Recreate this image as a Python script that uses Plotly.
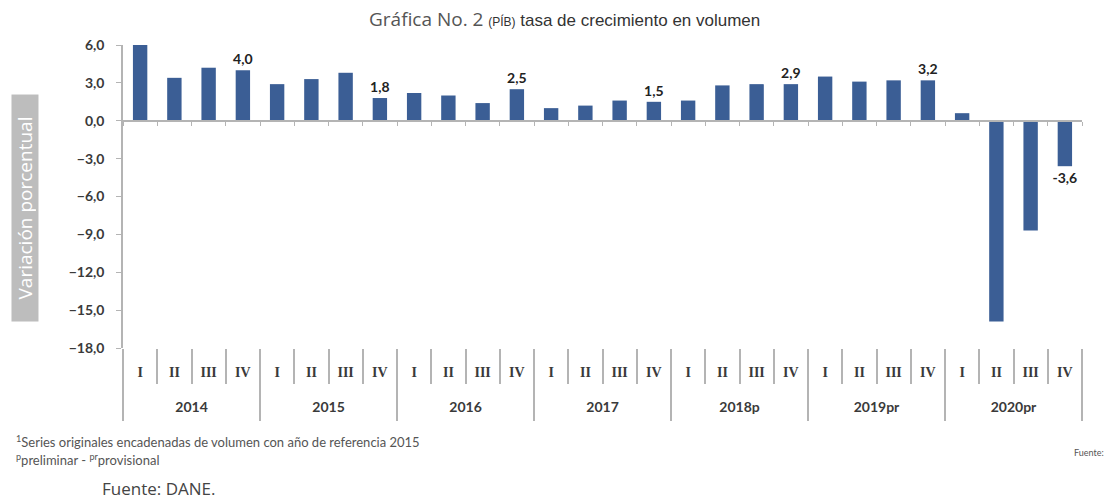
import plotly.graph_objects as go

years = ["2014", "2015", "2016", "2017", "2018p", "2019pr", "2020pr"]
quarters = ["I", "II", "III", "IV"]
values = [
    6.0, 3.4, 4.2, 4.0,
    2.9, 3.3, 3.8, 1.8,
    2.2, 2.0, 1.4, 2.5,
    1.0, 1.2, 1.6, 1.5,
    1.6, 2.8, 2.9, 2.9,
    3.5, 3.1, 3.2, 3.2,
    0.6, -15.9, -8.7, -3.6,
]
labeled_quarter = "IV"
y_min, y_max, y_step = -18, 6, 3

x_years = [y for y in years for _ in quarters]
x_quarters = [q for _ in years for q in quarters]
categories = [f"{y} {q}" for y, q in zip(x_years, x_quarters)]
texts = [f"{v:.1f}".replace(".", ",") if q == labeled_quarter else ""
         for v, q in zip(values, x_quarters)]

n = len(values)
nq = len(quarters)
xr = [-0.5, n - 0.5]
year_centers = [i * nq + (nq - 1) / 2 for i in range(len(years))]
year_bounds = [i * nq - 0.5 for i in range(len(years) + 1)]
quarter_bounds = [i - 0.5 for i in range(n + 1)]

BAR = "#3B5E95"
AX = "#B4B4B4"
TXT = "#3a3a3a"

fig = go.Figure()
fig.add_trace(go.Bar(
    x=categories, y=values,
    marker=dict(color=BAR, line=dict(width=0)),
    text=texts, textposition="outside", cliponaxis=False,
    constraintext="none",
    textfont=dict(family="Lato", size=14, color="#222222", weight="bold"),
    width=0.42, showlegend=False, hoverinfo="skip",
))
for ax in ["x2", "x3", "x4", "x5"]:
    fig.add_trace(go.Scatter(x=[], y=[], xaxis=ax, yaxis="y",
                             showlegend=False, hoverinfo="skip"))

zero_pos = (0 - y_min) / (y_max - y_min)

common_overlay = dict(overlaying="x", anchor="free", range=xr,
                      showgrid=False, zeroline=False, showline=False,
                      tickmode="array")

fig.update_layout(
    width=1112, height=502,
    margin=dict(l=115, r=38, t=37, b=162),
    paper_bgcolor="white", plot_bgcolor="white",
    separators=",.",
    xaxis=dict(
        type="category", range=xr,
        tickmode="array", tickvals=categories, ticktext=x_quarters,
        showline=False, showgrid=False, zeroline=False, ticks="",
        ticklabelstandoff=14,
        tickfont=dict(family="Liberation Serif", size=14, color=TXT, weight="bold"),
    ),
    # zero line with small ticks
    xaxis2=dict(common_overlay, position=zero_pos,
                tickvals=quarter_bounds, showline=True, linecolor=AX, linewidth=1.5,
                ticks="outside", ticklen=4, tickcolor=AX, showticklabels=False),
    # year labels
    xaxis3=dict(common_overlay, position=0,
                tickvals=year_centers, ticktext=years, ticks="",
                ticklabelstandoff=49,
                tickfont=dict(family="Lato", size=14, color=TXT, weight="bold")),
    # quarter separators
    xaxis4=dict(common_overlay, position=0,
                tickvals=quarter_bounds, ticks="outside", ticklen=35,
                tickcolor=AX, tickwidth=1.5, showticklabels=False),
    # year dividers
    xaxis5=dict(common_overlay, position=0,
                tickvals=year_bounds, ticks="outside", ticklen=72,
                tickcolor=AX, tickwidth=1.5, showticklabels=False),
    yaxis=dict(
        range=[y_min, y_max], dtick=y_step, tick0=0,
        tickformat=".1f",
        showline=True, linecolor=AX, linewidth=1.5,
        ticks="outside", ticklen=5, tickcolor=AX,
        ticklabelstandoff=9,
        showgrid=False, zeroline=False,
        tickfont=dict(family="Lato", size=14, color=TXT, weight="bold"),
    ),
    annotations=[
        dict(text="<span style='font-family:Open Sans;font-size:19px;color:#555555'>Gráfica No. 2</span>"
                  " <span style='font-size:12px'>(PÍB)</span>"
                  " <span style='font-size:17px'>tasa de crecimiento en volumen</span>",
             xref="paper", yref="paper", x=0.46, y=1.0, yshift=26,
             xanchor="center", yanchor="middle", showarrow=False,
             font=dict(family="Liberation Sans", size=17, color="#333333")),
        dict(text="Variación porcentual", textangle=-90,
             xref="paper", yref="paper", x=0, xshift=-98, y=0.462,
             xanchor="center", yanchor="middle", showarrow=False,
             bgcolor="#BDBDBD", borderpad=2, width=222, height=22,
             font=dict(family="Open Sans", size=19, color="white")),
        dict(text="<sup>1</sup>Series originales encadenadas de volumen con año de referencia 2015",
             xref="paper", yref="paper", x=0, xshift=-109, y=0, yshift=-93,
             xanchor="left", yanchor="middle", showarrow=False,
             font=dict(family="Lato", size=13, color="#555555")),
        dict(text="<sup>p</sup>preliminar - <sup>pr</sup>provisional",
             xref="paper", yref="paper", x=0, xshift=-109, y=0, yshift=-111,
             xanchor="left", yanchor="middle", showarrow=False,
             font=dict(family="Lato", size=13, color="#555555")),
        dict(text="Fuente: DANE",
             xref="paper", yref="paper", x=1, xshift=-10, y=0, yshift=-104,
             xanchor="left", yanchor="middle", showarrow=False,
             font=dict(family="Lato", size=9, color="#555555")),
        dict(text="Fuente: DANE.",
             xref="paper", yref="paper", x=0, xshift=-23, y=0, yshift=-140,
             xanchor="left", yanchor="middle", showarrow=False,
             font=dict(family="Open Sans", size=17, color="#444444")),
    ],
)

fig.write_html("out.html")
